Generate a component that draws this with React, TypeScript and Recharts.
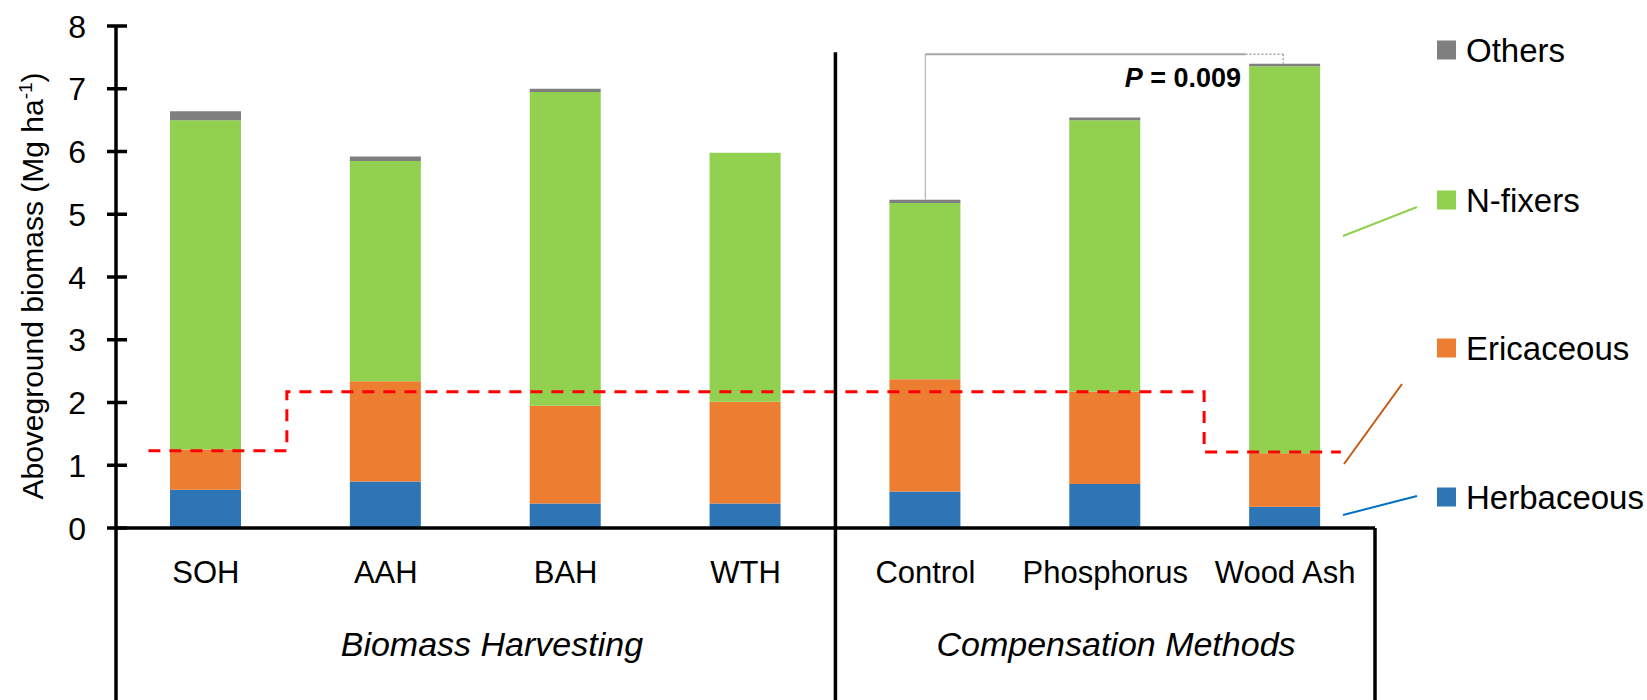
import {
  ComposedChart,
  Bar,
  Line,
  XAxis,
  YAxis,
  ReferenceLine,
  ReferenceDot,
  Legend
} from 'recharts'

const FONT = '"Liberation Sans", Arial, sans-serif'

const categories = ['SOH', 'AAH', 'BAH', 'WTH', 'Control', 'Phosphorus', 'Wood Ash']
const herbaceous = [0.61, 0.74, 0.39, 0.39, 0.58, 0.7, 0.34]
const ericaceous = [0.64, 1.6, 1.56, 1.62, 1.79, 1.47, 0.85]
const nFixers = [5.25, 3.51, 5.0, 3.97, 2.81, 4.33, 6.17]
const others = [0.14, 0.07, 0.05, 0.0, 0.05, 0.04, 0.04]
const yTicks = [0, 1, 2, 3, 4, 5, 6, 7, 8]
const legendOrder = ['Others', 'N-fixers', 'Ericaceous', 'Herbaceous']

// red dashed step line, x in category units (0..7)
const stepX = [0.18, 0.95, 0.95, 6.05, 6.05, 6.81]
const stepY = [1.23, 1.23, 2.17, 2.17, 1.21, 1.21]

const groupNames = ['Biomass Harvesting', 'Compensation Methods']
const groupX = [2.09, 5.56]
const pValue = '0.009'

const data = categories.map((name, i) => ({
  name,
  herb: herbaceous[i],
  eric: ericaceous[i],
  nfix: nFixers[i],
  other: others[i]
}))
const stepData = stepX.map((x, i) => ({ x, y: stepY[i] }))
const total = (i: number) => herbaceous[i] + ericaceous[i] + nFixers[i] + others[i]

const BRACKET_Y = 7.55
const BOTTOM = -2.9

function YTick({ x, y, payload }: any) {
  return (
    <g>
      <line x1={x - 9} x2={x + 11} y1={y} y2={y} stroke="#000" strokeWidth={3.5} />
      <text x={x - 30} y={y + 11.5} textAnchor="end" fontSize={32} fontFamily={FONT} fill="#000">
        {payload.value}
      </text>
    </g>
  )
}

function CatTick({ x, y, payload }: any) {
  return (
    <text x={x} y={y + 55} textAnchor="middle" fontSize={31} fontFamily={FONT} fill="#000">
      {payload.value}
    </text>
  )
}

function YLabel() {
  return (
    <text
      x={43}
      y={286}
      textAnchor="middle"
      transform="rotate(-90, 43, 286)"
      fontSize={30}
      fontFamily={FONT}
      fill="#000"
    >
      Aboveground biomass (Mg ha
      <tspan fontSize={19} dy={-11}>-1</tspan>
      <tspan dy={11}>)</tspan>
    </text>
  )
}

function GroupLabel({ viewBox, text }: any) {
  const cx = viewBox.x + viewBox.width / 2
  const cy = viewBox.y + viewBox.height / 2
  return (
    <text x={cx} y={cy} textAnchor="middle" fontSize={34} fontStyle="italic" fontFamily={FONT} fill="#000">
      {text}
    </text>
  )
}

function PLabel({ viewBox }: any) {
  const cx = viewBox.x + viewBox.width / 2
  const cy = viewBox.y + viewBox.height / 2
  return (
    <text x={cx} y={cy} textAnchor="end" fontSize={27} fontWeight="bold" fontFamily={FONT} fill="#000">
      <tspan fontStyle="italic">P</tspan> = {pValue}
    </text>
  )
}

function LegendBox({ payload }: any) {
  const byName: Record<string, string> = {}
  ;(payload || []).forEach((p: any) => {
    byName[p.value] = p.color
  })
  const rowY = [50, 200, 348, 497]
  return (
    <svg width={317} height={560} style={{ display: 'block', overflow: 'visible' }}>
      <line x1={13} y1={236} x2={87} y2={207} stroke="#92D050" strokeWidth={2} />
      <line x1={14} y1={464} x2={72} y2={384} stroke="#C55A11" strokeWidth={2} />
      <line x1={13} y1={515} x2={87} y2={496} stroke="#0070C0" strokeWidth={2} />
      {legendOrder.map((name, i) => (
        <g key={name}>
          <rect x={107} y={rowY[i] - 9.5} width={19} height={19} fill={byName[name]} />
          <text x={136} y={rowY[i] + 12} fontSize={33} fontFamily={FONT} fill="#000">
            {name}
          </text>
        </g>
      ))}
    </svg>
  )
}

export default function App() {
  return (
    <div style={{ position: 'absolute', left: 0, top: 0, width: 1647, height: 700, background: '#fff' }}>
      <ComposedChart
        width={1647}
        height={700}
        data={data}
        margin={{ top: 26, right: 272, bottom: 0, left: 0 }}
        barSize={71}
      >
        <XAxis
          xAxisId="cat"
          dataKey="name"
          type="category"
          height={172}
          interval={0}
          axisLine={{ stroke: '#000', strokeWidth: 3.5 }}
          tickLine={false}
          tickSize={0}
          tickMargin={0}
          tick={<CatTick />}
        />
        <XAxis xAxisId="num" dataKey="x" type="number" domain={[0, 7]} allowDataOverflow hide />
        <YAxis
          domain={[0, 8]}
          ticks={yTicks}
          interval={0}
          width={116}
          allowDataOverflow
          axisLine={{ stroke: '#000', strokeWidth: 3.5 }}
          tickLine={false}
          tickSize={0}
          tickMargin={0}
          tick={<YTick />}
          label={<YLabel />}
        />
        <Line
          xAxisId="num"
          data={stepData}
          dataKey="y"
          type="linear"
          stroke="#FF0000"
          strokeWidth={3}
          strokeDasharray="12 9"
          dot={false}
          activeDot={false}
          legendType="none"
          isAnimationActive={false}
        />
        <Bar xAxisId="cat" dataKey="herb" name="Herbaceous" stackId="a" fill="#2E75B6" isAnimationActive={false} />
        <Bar xAxisId="cat" dataKey="eric" name="Ericaceous" stackId="a" fill="#ED7D31" isAnimationActive={false} />
        <Bar xAxisId="cat" dataKey="nfix" name="N-fixers" stackId="a" fill="#92D050" isAnimationActive={false} />
        <Bar xAxisId="cat" dataKey="other" name="Others" stackId="a" fill="#7F7F7F" isAnimationActive={false} />

        {/* frame below the axis */}
        <ReferenceLine xAxisId="num" ifOverflow="visible" stroke="#000" strokeWidth={3.5}
          segment={[{ x: 0, y: 0 }, { x: 0, y: BOTTOM }]} />
        <ReferenceLine xAxisId="num" ifOverflow="visible" stroke="#000" strokeWidth={3.5}
          segment={[{ x: 4, y: 7.58 }, { x: 4, y: BOTTOM }]} />
        <ReferenceLine xAxisId="num" ifOverflow="visible" stroke="#000" strokeWidth={3.5}
          segment={[{ x: 7, y: 0 }, { x: 7, y: BOTTOM }]} />

        {/* significance bracket */}
        <ReferenceLine xAxisId="num" ifOverflow="visible" stroke="#BFBFBF" strokeWidth={1.5}
          segment={[{ x: 4.5, y: total(4) }, { x: 4.5, y: BRACKET_Y }]} />
        <ReferenceLine xAxisId="num" ifOverflow="visible" stroke="#A6A6A6" strokeWidth={2}
          segment={[{ x: 4.5, y: BRACKET_Y }, { x: 6.28, y: BRACKET_Y }]} />
        <ReferenceLine xAxisId="num" ifOverflow="visible" stroke="#A6A6A6" strokeWidth={1.5} strokeDasharray="2 2"
          segment={[{ x: 6.28, y: BRACKET_Y }, { x: 6.49, y: BRACKET_Y }]} />
        <ReferenceLine xAxisId="num" ifOverflow="visible" stroke="#A6A6A6" strokeWidth={1.5} strokeDasharray="2 2"
          segment={[{ x: 6.49, y: BRACKET_Y }, { x: 6.49, y: total(6) }]} />
        <ReferenceDot xAxisId="num" x={6.255} y={7.02} r={1} fill="none" stroke="none" ifOverflow="visible"
          label={<PLabel />} />

        {groupNames.map((g, i) => (
          <ReferenceDot key={g} xAxisId="num" x={groupX[i]} y={-2.04} r={1} fill="none" stroke="none"
            ifOverflow="visible" label={<GroupLabel text={g} />} />
        ))}

        <Legend
          layout="vertical"
          align="center"
          verticalAlign="middle"
          wrapperStyle={{ left: 1330, top: 0, width: 317, height: 560, margin: 0, padding: 0 }}
          content={<LegendBox />}
        />
      </ComposedChart>
    </div>
  )
}
